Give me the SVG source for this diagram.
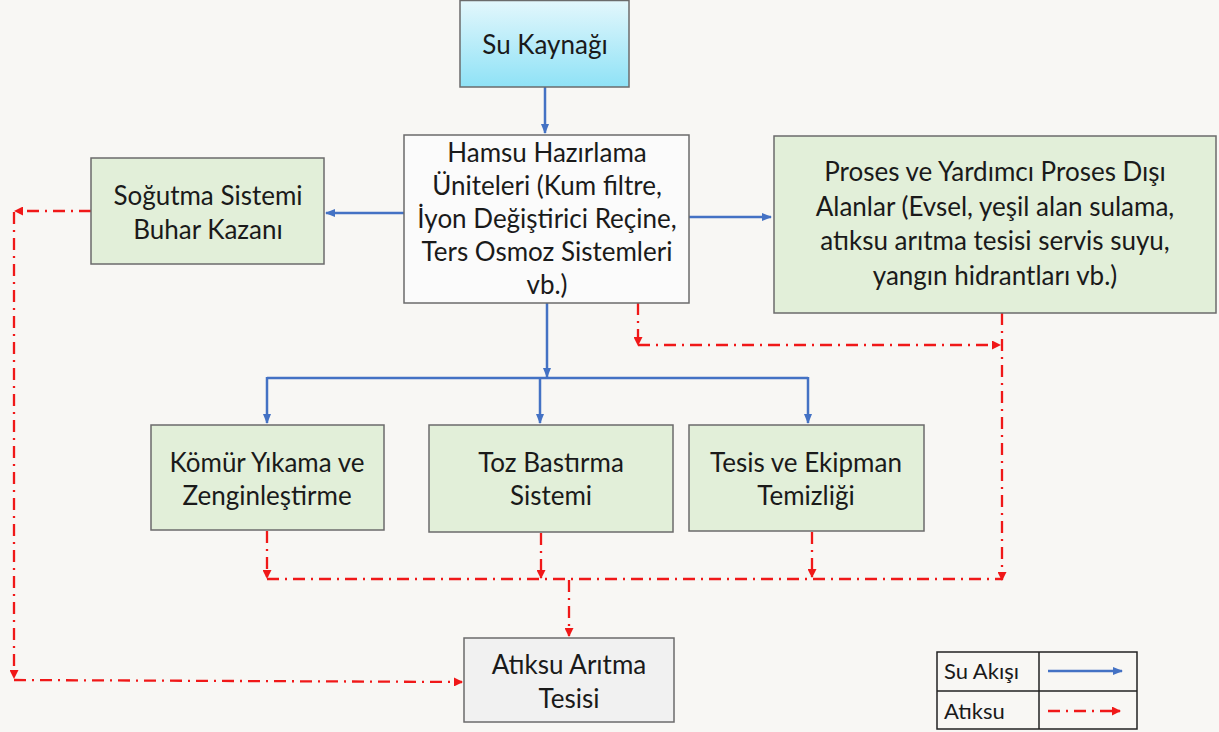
<svg xmlns="http://www.w3.org/2000/svg" width="1219" height="732" viewBox="0 0 1219 732">
<defs>
<linearGradient id="cyan" x1="0" y1="0" x2="0" y2="1">
<stop offset="0" stop-color="#e3f7fc"/>
<stop offset="1" stop-color="#8fe2f6"/>
</linearGradient>
<marker id="ab" markerWidth="10" markerHeight="8" refX="9" refY="4" orient="auto" markerUnits="userSpaceOnUse">
<path d="M0,0 L10,4 L0,8 Z" fill="#4472c4"/>
</marker>
<marker id="ar" markerWidth="9" markerHeight="9" refX="8" refY="4.5" orient="auto" markerUnits="userSpaceOnUse">
<path d="M0,0 L9,4.5 L0,9 Z" fill="#f01818"/>
</marker>
<style>
.box{stroke:#6b6b6b;stroke-width:1.5}
.g{fill:#e2efd9}
.t{font-family:Lato,"Open Sans",sans-serif;font-size:26px;fill:#1a1a1a;text-anchor:middle}
.lt{font-family:Lato,"Open Sans",sans-serif;font-size:22px;fill:#1a1a1a}
.b{fill:none;stroke:#4472c4;stroke-width:2.5}
.r{fill:none;stroke:#f01818;stroke-width:2.3;stroke-dasharray:12 6 2 6}
</style>
</defs>
<rect width="1219" height="732" fill="#f8f7f4"/>

<g id="connectors">
<path class="b" d="M545,87 V133" marker-end="url(#ab)"/>
<path class="b" d="M404,213 H326" marker-end="url(#ab)"/>
<path class="b" d="M689,217 H771" marker-end="url(#ab)"/>
<path class="b" d="M547,303 V377" marker-end="url(#ab)"/>
<path class="b" d="M267,378 H808"/>
<path class="b" d="M267,377 V423" marker-end="url(#ab)"/>
<path class="b" d="M540,378 V423" marker-end="url(#ab)"/>
<path class="b" d="M808,377 V423" marker-end="url(#ab)"/>

<path class="r" d="M91,211 H15" marker-end="url(#ar)"/>
<path class="r" d="M14,212 V678" marker-end="url(#ar)"/>
<path class="r" d="M14,680 L462,682" marker-end="url(#ar)"/>
<path class="r" d="M638,303 V345" marker-end="url(#ar)"/>
<path class="r" d="M638,345 H1000" marker-end="url(#ar)"/>
<path class="r" d="M1002,313 V580" marker-end="url(#ar)"/>
<path class="r" d="M267,531 V578" marker-end="url(#ar)"/>
<path class="r" d="M541,533 V578" marker-end="url(#ar)"/>
<path class="r" d="M812,532 V577" marker-end="url(#ar)"/>
<path class="r" d="M267,579 H1002"/>
<path class="r" d="M569,580 V636" marker-end="url(#ar)"/>
</g>

<g id="su-kaynagi">
<rect class="box" x="460" y="0.5" width="169" height="86.5" fill="url(#cyan)"/>
<text class="t" x="545" y="54">Su Kaynağı</text>
</g>

<g id="hamsu">
<rect class="box" x="404" y="135" width="285" height="168" fill="#fbfbfb"/>
<text class="t" x="547" y="162">Hamsu Hazırlama</text>
<text class="t" x="547" y="195">Üniteleri (Kum filtre,</text>
<text class="t" x="547" y="228">İyon Değiştirici Reçine,</text>
<text class="t" x="547" y="261">Ters Osmoz Sistemleri</text>
<text class="t" x="547" y="294">vb.)</text>
</g>

<g id="sogutma">
<rect class="box g" x="91" y="158" width="233" height="106"/>
<text class="t" x="208" y="205">Soğutma Sistemi</text>
<text class="t" x="208" y="239">Buhar Kazanı</text>
</g>

<g id="proses">
<rect class="box g" x="774" y="136" width="442" height="177"/>
<text class="t" x="995" y="181">Proses ve Yardımcı Proses Dışı</text>
<text class="t" x="995" y="216">Alanlar (Evsel, yeşil alan sulama,</text>
<text class="t" x="995" y="250">atıksu arıtma tesisi servis suyu,</text>
<text class="t" x="995" y="285">yangın hidrantları vb.)</text>
</g>

<g id="komur">
<rect class="box g" x="151" y="425" width="233" height="105"/>
<text class="t" x="267" y="472">Kömür Yıkama ve</text>
<text class="t" x="267" y="505">Zenginleştirme</text>
</g>

<g id="toz">
<rect class="box g" x="429" y="425" width="244" height="107"/>
<text class="t" x="551" y="472">Toz Bastırma</text>
<text class="t" x="551" y="505">Sistemi</text>
</g>

<g id="tesis">
<rect class="box g" x="689" y="425" width="235" height="106"/>
<text class="t" x="806" y="472">Tesis ve Ekipman</text>
<text class="t" x="806" y="505">Temizliği</text>
</g>

<g id="atiksu-aritma">
<rect class="box" x="464" y="638" width="210" height="84" fill="#f1f1f1"/>
<text class="t" x="569" y="674">Atıksu Arıtma</text>
<text class="t" x="569" y="708">Tesisi</text>
</g>

<g id="legend">
<rect x="937" y="652" width="200" height="77" fill="#f8f7f4" stroke="#222" stroke-width="1.5"/>
<line x1="1039" y1="652" x2="1039" y2="729" stroke="#222" stroke-width="1.5"/>
<line x1="937" y1="691" x2="1137" y2="691" stroke="#222" stroke-width="1.5"/>
<text class="lt" x="944" y="679">Su Akışı</text>
<text class="lt" x="944" y="719">Atıksu</text>
<path class="b" d="M1048,671 H1122" marker-end="url(#ab)"/>
<path class="r" d="M1048,711 H1120" stroke-width="3" marker-end="url(#ar)"/>
</g>
</svg>
